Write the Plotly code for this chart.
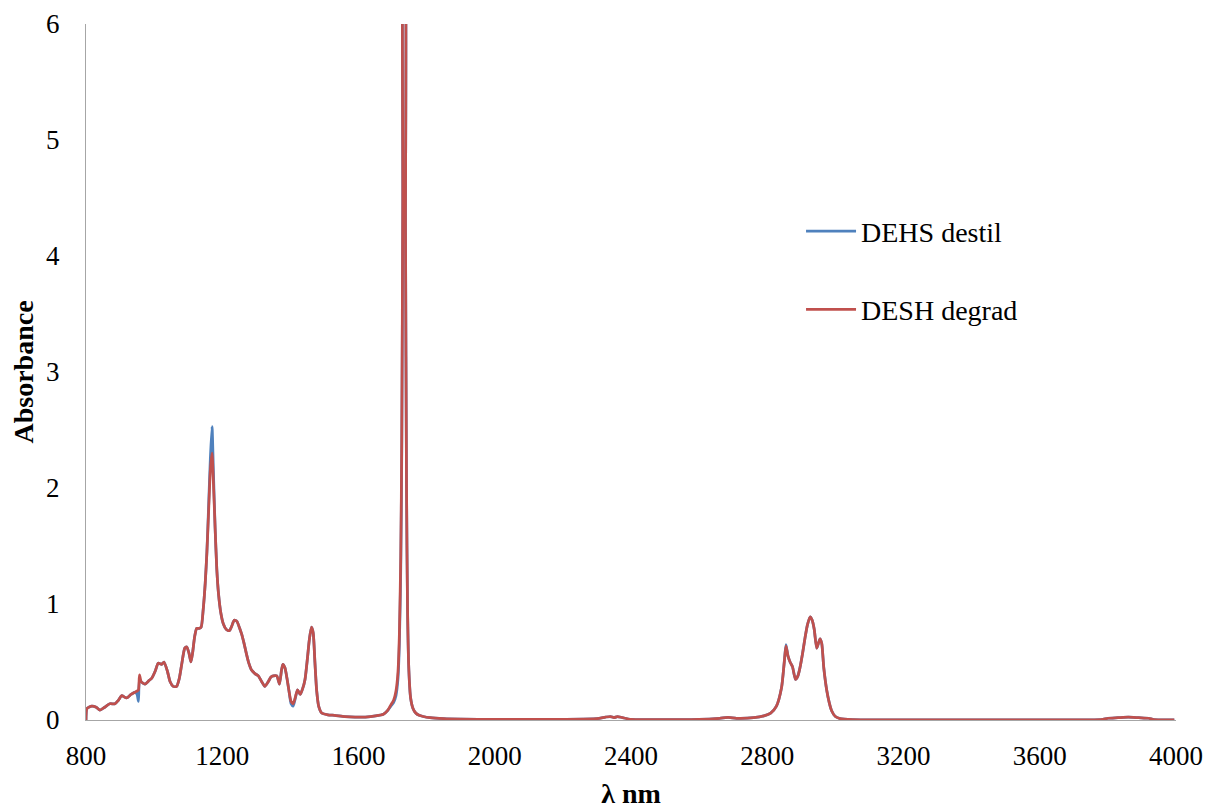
import plotly.graph_objects as go

# wavelength (nm)
wavelength = [800, 803, 817, 830, 841, 855, 870, 885, 895, 905, 919, 932, 944, 950, 954, 957, 962, 973, 985, 993,
              1003, 1012, 1022, 1029, 1039, 1047, 1056, 1066, 1074, 1081, 1090, 1096, 1102, 1108, 1113, 1119, 1125, 1132,
              1138, 1144, 1150, 1155, 1160, 1165, 1170, 1174, 1179, 1184, 1189, 1196, 1203, 1212, 1221, 1228, 1235, 1243,
              1250, 1257, 1264, 1271, 1278, 1286, 1296, 1306, 1316, 1325, 1335, 1343, 1350, 1360, 1368, 1374, 1378, 1384,
              1390, 1396, 1402, 1408, 1414, 1421, 1429, 1436, 1443, 1450, 1456, 1462, 1467, 1472, 1477, 1483, 1492, 1510,
              1530, 1560, 1590, 1620, 1650, 1673, 1685, 1695, 1703, 1710, 1716, 1720, 1724, 1727, 1730, 1733, 1735, 1738, 1741,
              1744, 1748, 1753, 1760, 1768, 1778, 1790, 1810, 1850, 1900, 2000, 2100, 2200, 2300, 2325, 2340, 2350, 2360, 2375,
              2400, 2500, 2600, 2660, 2685, 2710, 2760, 2790, 2810, 2827, 2842, 2850, 2855, 2861, 2867, 2874, 2883, 2890,
              2896, 2904, 2911, 2918, 2926, 2932, 2938, 2945, 2950, 2955, 2960, 2966, 2975, 2982, 2989, 3000, 3014, 3050,
              3200, 3400, 3600, 3780, 3800, 3830, 3860, 3890, 3920, 3935, 3995]

degrad = [0.0, 0.10, 0.12, 0.11, 0.085, 0.11, 0.14, 0.14, 0.17, 0.21, 0.19, 0.22, 0.24, 0.25, 0.26, 0.39, 0.33, 0.31, 0.34, 0.36,
          0.42, 0.49, 0.48, 0.50, 0.42, 0.33, 0.29, 0.29, 0.36, 0.48, 0.62, 0.63, 0.58, 0.50, 0.58, 0.72, 0.79, 0.79,
          0.80, 0.95, 1.18, 1.45, 1.80, 2.15, 2.30, 2.05, 1.66, 1.30, 1.09, 0.92, 0.83, 0.78, 0.77, 0.81, 0.86, 0.85,
          0.80, 0.74, 0.66, 0.57, 0.49, 0.43, 0.40, 0.38, 0.33, 0.29, 0.33, 0.37, 0.38, 0.38, 0.31, 0.43, 0.48, 0.45,
          0.36, 0.25, 0.16, 0.14, 0.19, 0.26, 0.22, 0.27, 0.35, 0.53, 0.70, 0.80, 0.75, 0.50, 0.26, 0.12, 0.06, 0.045,
          0.04, 0.03, 0.025, 0.025, 0.035, 0.05, 0.08, 0.13, 0.17, 0.25, 0.42, 0.74, 1.4, 2.4, 4.5, 7.0, 7.0, 4.2, 2.0,
          0.95, 0.42, 0.19, 0.10, 0.06, 0.04, 0.03, 0.02, 0.012, 0.008, 0.005, 0.005, 0.006, 0.012, 0.025, 0.03, 0.02, 0.03, 0.02,
          0.005, 0.004, 0.006, 0.015, 0.022, 0.015, 0.02, 0.035, 0.06, 0.12, 0.28, 0.50, 0.64, 0.55, 0.50, 0.46, 0.35, 0.38,
          0.45, 0.58, 0.71, 0.82, 0.89, 0.86, 0.78, 0.62, 0.66, 0.70, 0.66, 0.45, 0.25, 0.15, 0.08, 0.03, 0.012, 0.004,
          0.002, 0.002, 0.002, 0.003, 0.015, 0.02, 0.025, 0.02, 0.015, 0.004, 0.002]

destil = [0.0, 0.10, 0.12, 0.11, 0.085, 0.11, 0.14, 0.14, 0.17, 0.21, 0.19, 0.22, 0.24, 0.22, 0.16, 0.35, 0.33, 0.31, 0.34, 0.36,
          0.42, 0.49, 0.48, 0.50, 0.42, 0.33, 0.29, 0.29, 0.36, 0.48, 0.62, 0.63, 0.58, 0.50, 0.58, 0.72, 0.79, 0.79,
          0.80, 0.95, 1.18, 1.45, 1.85, 2.25, 2.53, 2.15, 1.66, 1.30, 1.09, 0.92, 0.83, 0.78, 0.77, 0.81, 0.86, 0.85,
          0.80, 0.74, 0.66, 0.57, 0.49, 0.43, 0.40, 0.38, 0.33, 0.29, 0.33, 0.37, 0.38, 0.38, 0.31, 0.43, 0.48, 0.45,
          0.36, 0.25, 0.14, 0.12, 0.18, 0.26, 0.22, 0.27, 0.35, 0.53, 0.70, 0.80, 0.75, 0.50, 0.26, 0.12, 0.06, 0.045,
          0.04, 0.03, 0.025, 0.025, 0.035, 0.05, 0.08, 0.12, 0.15, 0.21, 0.36, 0.66, 1.3, 2.3, 4.4, 7.0, 7.0, 4.2, 2.0,
          0.95, 0.42, 0.19, 0.10, 0.06, 0.04, 0.03, 0.02, 0.012, 0.008, 0.005, 0.005, 0.006, 0.012, 0.025, 0.03, 0.02, 0.03, 0.02,
          0.005, 0.004, 0.006, 0.015, 0.022, 0.015, 0.02, 0.035, 0.06, 0.12, 0.28, 0.50, 0.65, 0.55, 0.50, 0.46, 0.35, 0.38,
          0.45, 0.58, 0.71, 0.82, 0.89, 0.86, 0.78, 0.62, 0.66, 0.70, 0.66, 0.45, 0.25, 0.15, 0.08, 0.03, 0.012, 0.004,
          0.002, 0.002, 0.002, 0.003, 0.015, 0.02, 0.025, 0.02, 0.015, 0.004, 0.002]

series_names = ["DEHS destil", "DESH degrad"]
x_ticks = [800, 1200, 1600, 2000, 2400, 2800, 3200, 3600, 4000]
y_ticks = [0, 1, 2, 3, 4, 5, 6]

FONT = "Liberation Serif, Times New Roman, serif"

fig = go.Figure()
fig.add_trace(go.Scatter(x=wavelength, y=destil, mode="lines", name=series_names[0],
                         legendgroup="a",
                         line=dict(color="#4F81BD", width=2.75, shape="spline", smoothing=0.6)))
fig.add_trace(go.Scatter(x=wavelength, y=degrad, mode="lines", name=series_names[1],
                         legendgroup="b",
                         line=dict(color="#C0504D", width=2.75, shape="spline", smoothing=0.6)))

fig.update_layout(
    width=1208, height=809,
    margin=dict(l=86, r=32, t=24, b=89),
    paper_bgcolor="white", plot_bgcolor="white",
    font=dict(family=FONT, size=27, color="black"),
    legend=dict(x=0.656, y=0.738, xanchor="left", yanchor="top",
                font=dict(family=FONT, size=28, color="black"),
                itemwidth=50,
                tracegroupgap=39, bgcolor="rgba(0,0,0,0)"),
    showlegend=True,
)
fig.update_xaxes(range=[800, 4000], tickvals=x_ticks, ticktext=[str(v) for v in x_ticks],
                 showgrid=False, zeroline=False, showline=True, linecolor="#A6A6A6", linewidth=1,
                 ticks="", ticklabelstandoff=12, automargin=False,
                 title=dict(text="<b>λ nm</b>", font=dict(family=FONT, size=28), standoff=16))
fig.update_yaxes(range=[0, 6], tickvals=y_ticks, ticktext=[str(v) for v in y_ticks],
                 showgrid=False, zeroline=False, showline=True, linecolor="#A6A6A6", linewidth=1,
                 ticks="", ticklabelstandoff=20, automargin=False,
                 title=dict(text="<b>Absorbance</b>", font=dict(family=FONT, size=28), standoff=4))

fig.write_html("out.html")
